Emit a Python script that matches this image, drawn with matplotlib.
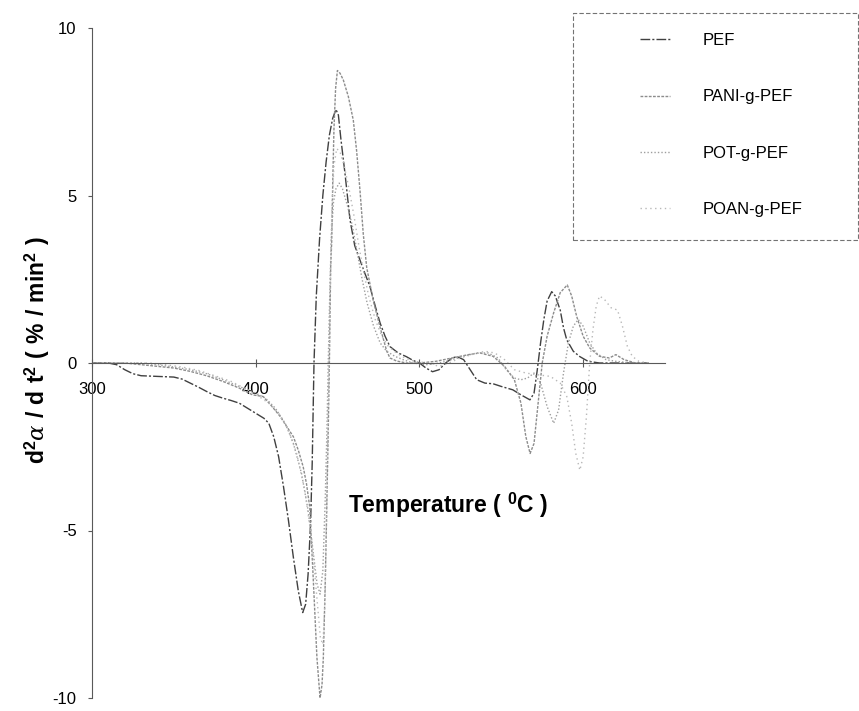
import matplotlib
matplotlib.use("Agg")
import matplotlib.pyplot as plt
from matplotlib.patches import Rectangle
from matplotlib.lines import Line2D

plt.rcParams['font.family'] = ['Liberation Sans', 'DejaVu Sans']
plt.rcParams['mathtext.fontset'] = 'custom'
plt.rcParams['mathtext.rm'] = 'Liberation Sans'
plt.rcParams['mathtext.bf'] = 'Liberation Sans:bold'
plt.rcParams['mathtext.it'] = 'DejaVu Serif:italic'
plt.rcParams['axes.unicode_minus'] = False

# second derivative of conversion vs temperature
pef_t = [300, 310, 315, 320, 325, 330, 340, 350, 355, 360, 365, 370, 375, 380, 385, 390,
         395, 400, 405, 408, 411, 414, 417, 420, 423, 426, 428.7, 430.5, 432, 433.5, 434.5,
         435.6, 437, 439, 441, 443, 445, 447, 449, 450.5, 452, 454.5, 457.6, 460.5, 463.7,
         466.5, 469.8, 473, 476, 479, 482, 487, 492, 496, 500, 504, 508, 512, 516, 520, 523,
         527, 531, 535, 540, 545, 550, 557, 562, 567.5, 570, 572, 574, 576, 578, 580.8, 583,
         586, 588, 590, 594, 598, 603, 610, 640]
pef_v = [0, 0, -0.05, -0.2, -0.32, -0.38, -0.4, -0.42, -0.48, -0.6, -0.72, -0.85, -0.97,
         -1.05, -1.12, -1.2, -1.35, -1.5, -1.65, -1.8, -2.2, -2.8, -3.7, -4.7, -5.8, -6.8,
         -7.45, -7.2, -6.3, -4.8, -3.0, 0.0, 2.0, 3.7, 5.0, 6.0, 6.8, 7.3, 7.57, 7.4, 6.7,
         5.67, 4.27, 3.5, 3.07, 2.7, 2.28, 1.7, 1.19, 0.8, 0.49, 0.3, 0.19, 0.08, 0.0, -0.15,
         -0.26, -0.2, 0.0, 0.15, 0.19, 0.1, -0.2, -0.5, -0.6, -0.62, -0.7, -0.8, -0.95, -1.1,
         -0.9, -0.2, 0.6, 1.3, 1.85, 2.13, 2.0, 1.58, 1.05, 0.69, 0.35, 0.19, 0.05, 0.0, 0.0]

pani_t = [300, 320, 330, 340, 350, 360, 370, 380, 390, 398, 404.5, 410, 415, 419, 423, 426,
          429, 431, 433, 435, 437.4, 439.3, 440.5, 441.3, 442.5, 443.4, 444.3, 445, 445.8,
          446.4, 447.1, 447.8, 448.8, 449.9, 451.5, 453.5, 456.6, 459.6, 461.6, 463.7, 465.7,
          467.8, 471.8, 476, 480, 482, 486, 492, 500, 510, 520, 530, 537, 545, 552, 558, 562,
          565, 567.6, 570, 572.5, 575, 578, 582, 586, 590.3, 593, 596, 600, 604, 610, 616,
          620, 625, 632, 640]
pani_v = [0, 0, -0.05, -0.1, -0.15, -0.25, -0.38, -0.55, -0.75, -0.95, -1.0, -1.3, -1.6,
          -1.9, -2.2, -2.6, -3.1, -3.6, -4.3, -6.3, -8.8, -10.0, -9.6, -8.8, -6.5, -4.3, -2.0,
          0.0, 2.9, 3.6, 5.5, 7.0, 8.2, 8.73, 8.65, 8.45, 7.95, 7.25, 6.35, 5.15, 3.85, 2.85,
          1.86, 1.06, 0.36, 0.15, 0.06, 0.0, 0.0, 0.05, 0.15, 0.25, 0.3, 0.2, -0.1, -0.5,
          -1.2, -2.2, -2.7, -2.4, -1.2, 0.0, 0.8, 1.5, 2.1, 2.33, 2.0, 1.4, 0.8, 0.45, 0.2,
          0.15, 0.25, 0.1, 0.0, 0.0]

pot_t = [300, 330, 340, 350, 360, 370, 380, 390, 400, 406, 412, 418, 423, 428, 432, 435,
         437.5, 439.3, 441, 442.5, 443.5, 444.3, 445.2, 446.2, 447.5, 449, 451, 453, 456,
         459, 462, 465, 468, 472, 476, 480, 485, 490, 496, 505, 512, 520, 527, 535, 542, 548,
         553, 558, 562, 566, 570, 574, 578, 582, 585, 588, 591, 594, 597, 600, 604, 608, 614,
         620, 630, 640]
pot_v = [0, 0, -0.05, -0.12, -0.2, -0.32, -0.5, -0.7, -0.9, -1.05, -1.35, -1.8, -2.4, -3.3,
         -4.4, -5.6, -6.6, -6.9, -6.2, -4.0, -2.0, 0.0, 2.0, 3.8, 4.8, 5.2, 5.37, 5.2, 4.7,
         4.1, 3.3, 2.5, 1.8, 1.1, 0.6, 0.35, 0.2, 0.1, 0.0, -0.05, 0.0, 0.1, 0.2, 0.3, 0.3,
         0.15, -0.2, -0.45, -0.5, -0.45, -0.3, -0.6, -1.3, -1.8, -1.4, -0.3, 0.6, 1.1, 1.3,
         1.1, 0.6, 0.3, 0.1, 0.05, 0.0, 0.0]

poan_t = [300, 335, 345, 355, 365, 375, 385, 395, 402, 408, 414, 420, 425, 430, 434, 437,
          439.5, 441, 442.3, 443.3, 444.2, 444.8, 445.6, 446.5, 447.8, 449.5, 451.5, 454, 457,
          460, 463, 466, 469, 473, 477, 481, 486, 491, 497, 505, 512, 518, 525, 532, 540, 546,
          552, 558, 565, 572, 580, 586, 590, 593, 595.5, 598, 600, 602, 604, 606, 608, 610,
          613, 617, 621, 624, 627, 630, 634, 640]
poan_v = [0, 0, -0.05, -0.12, -0.22, -0.38, -0.55, -0.8, -1.0, -1.2, -1.5, -2.0, -2.7, -3.8,
          -5.2, -6.8, -8.2, -8.4, -7.2, -4.5, -1.5, 0.0, 2.5, 4.6, 5.9, 6.4, 6.3, 5.9, 5.2,
          4.4, 3.5, 2.7, 2.0, 1.3, 0.8, 0.5, 0.3, 0.15, 0.05, 0.0, -0.1, 0.0, 0.15, 0.25,
          0.35, 0.3, 0.1, -0.2, -0.3, -0.35, -0.4, -0.6, -1.0, -1.8, -2.7, -3.2, -2.8, -1.6,
          0.0, 1.0, 1.7, 2.0, 1.9, 1.65, 1.58, 1.1, 0.5, 0.2, 0.05, 0.0]

labels = ['PEF', 'PANI-g-PEF', 'POT-g-PEF', 'POAN-g-PEF']
colors = ['0.25', '0.55', '0.62', '0.72']
styles = [(0, (7, 1.5, 1.5, 1.5)), (0, (2, 1)), (0, (1, 1.5)), (0, (1, 2.5))]

fig = plt.figure(figsize=(8.59, 7.11), dpi=100)
ax = fig.add_axes([92 / 859, 13 / 711, (665 - 92) / 859, (698 - 28) / 711])

series = [(pef_t, pef_v), (pani_t, pani_v), (pot_t, pot_v), (poan_t, poan_v)]
for (t, v), c, ls in zip(series, colors, styles):
    ax.plot(t, v, color=c, linestyle=ls, linewidth=1.0)

ax.set_xlim(300, 650)
ax.set_ylim(-10, 10)
ax.set_xticks([300, 400, 500, 600])
ax.set_yticks([-10, -5, 0, 5, 10])

ax.spines['left'].set_position(('data', 300))
ax.spines['bottom'].set_position(('data', 0))
ax.spines['top'].set_visible(False)
ax.spines['right'].set_visible(False)
ax.spines['left'].set_color('0.35')
ax.spines['bottom'].set_color('0.35')
ax.spines['left'].set_linewidth(0.8)
ax.spines['bottom'].set_linewidth(0.8)
ax.tick_params(axis='x', direction='inout', length=6, width=0.8, color='0.35',
               labelsize=12, pad=11)
ax.tick_params(axis='y', direction='out', length=3, width=0.8, color='0.35',
               labelsize=12, pad=8)

fig.text(37 / 859, 1 - 350 / 711,
         r'$\mathbf{d}^{\mathbf{2}}\alpha\ \mathbf{/\ d\ t}^{\mathbf{2}}'
         r'\mathbf{\ (\ \%\ /\ min}^{\mathbf{2}}\mathbf{\ )}$',
         rotation=90, ha='center', va='center', fontsize=16.5)
fig.text(348 / 859, 1 - 505 / 711, r'Temperature ( $^{\mathbf{0}}$C )',
         ha='left', va='center', fontsize=16.5, fontweight='bold')

# legend box
fig.patches.append(Rectangle((573 / 859, 1 - 240 / 711), (858 - 573) / 859, 227 / 711,
                             transform=fig.transFigure, fill=False, edgecolor='0.45',
                             linewidth=0.8, linestyle=(0, (4, 2))))
handles = [Line2D([], [], color=c, linestyle=ls, linewidth=1.0)
           for c, ls in zip(colors, styles)]
fig.legend(handles, labels, loc='upper left', bbox_to_anchor=(640 / 859, 1 - 33 / 711),
           frameon=False, fontsize=12, handlelength=1.8, handletextpad=1.95,
           labelspacing=2.48, borderpad=0, borderaxespad=0)

fig.savefig('out.png', dpi=100)
